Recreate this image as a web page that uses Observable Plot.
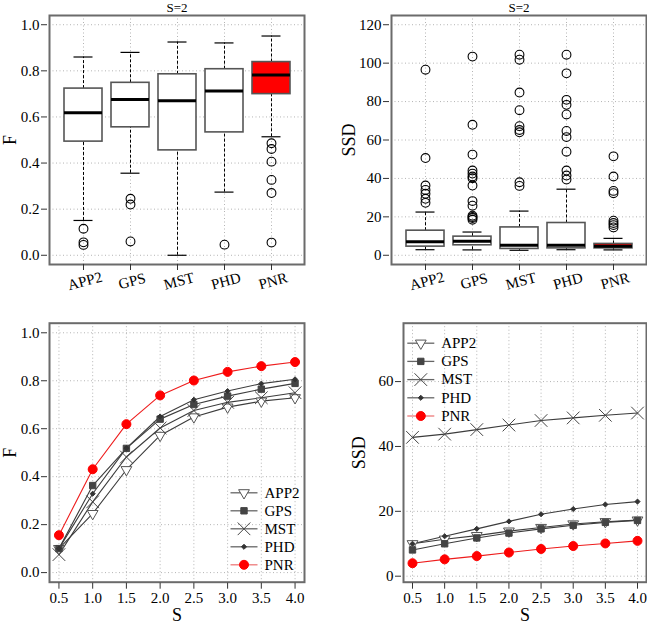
<!DOCTYPE html>
<html><head><meta charset="utf-8">
<script src="https://cdn.jsdelivr.net/npm/d3@7"></script>
<script src="https://cdn.jsdelivr.net/npm/@observablehq/plot@0.6"></script>
<style>
body{margin:0;background:#fff}
#wrap{position:relative;width:647px;height:624px;overflow:hidden;background:#fff}
#wrap svg, #wrap svg text{font-family:'Liberation Serif','Times New Roman',serif !important}
</style></head><body><div id="wrap"></div>
<script>
// ---------- data ----------
const methods = ["APP2", "GPS", "MST", "PHD", "PNR"];
const boxTitle = "S=2";

// F at S=2 (boxplot summaries)
const fLow  = [0.151, 0.356, 0.000, 0.274, 0.514];
const fQ1   = [0.493, 0.555, 0.455, 0.533, 0.699];
const fMed  = [0.618, 0.676, 0.670, 0.713, 0.782];
const fQ3   = [0.723, 0.748, 0.785, 0.807, 0.838];
const fHigh = [0.860, 0.880, 0.925, 0.921, 0.951];
const fOut  = [
  [0.115, 0.056, 0.045],
  [0.245, 0.220, 0.060],
  [],
  [0.046],
  [0.486, 0.461, 0.406, 0.327, 0.270, 0.055]
];

// SSD at S=2 (boxplot summaries)
const sLow  = [2.9, 2.8, 2.6, 2.9, 2.8];
const sQ1   = [4.5, 5.2, 3.3, 3.6, 3.6];
const sMed  = [7.1, 7.3, 5.2, 5.2, 4.7];
const sQ3   = [12.8, 9.7, 14.5, 16.8, 5.9];
const sHigh = [22.5, 12.1, 23.0, 34.4, 8.8];
const sOut  = [
  [96.6, 50.6, 36.3, 34.0, 32.0, 29.4, 27.3],
  [103.4, 67.9, 52.4, 44.1, 42.5, 41.0, 40.1, 36.3, 28.2, 25.8, 20.6, 19.9, 19.4, 18.5],
  [104.4, 101.8, 84.7, 75.5, 67.2, 65.2, 64.0, 38.0, 36.1],
  [104.4, 94.7, 80.9, 78.3, 73.3, 64.7, 61.5, 53.9, 44.1, 41.5, 39.4],
  [51.5, 41.0, 33.5, 32.3, 18.0, 16.8, 15.7, 14.5]
];

// curves vs S
const sValues = [0.5, 1.0, 1.5, 2.0, 2.5, 3.0, 3.5, 4.0];
const fAPP2 = [0.100, 0.246, 0.429, 0.572, 0.649, 0.690, 0.715, 0.729];
const fGPS  = [0.100, 0.363, 0.518, 0.640, 0.701, 0.736, 0.765, 0.789];
const fMST  = [0.075, 0.295, 0.482, 0.603, 0.676, 0.710, 0.729, 0.750];
const fPHD  = [0.100, 0.329, 0.519, 0.651, 0.721, 0.757, 0.788, 0.806];
const fPNR  = [0.156, 0.431, 0.619, 0.739, 0.801, 0.837, 0.861, 0.878];

const ssdAPP2 = [10.0, 11.4, 12.5, 13.9, 15.0, 16.1, 16.8, 17.3];
const ssdGPS  = [8.1, 10.0, 11.8, 13.3, 14.6, 15.7, 16.6, 17.2];
const ssdMST  = [42.8, 43.8, 45.2, 46.6, 48.0, 48.8, 49.6, 50.3];
const ssdPHD  = [10.0, 12.3, 14.6, 16.9, 19.1, 20.7, 22.1, 23.0];
const ssdPNR  = [4.0, 5.2, 6.2, 7.3, 8.4, 9.3, 10.1, 10.9];

const fTicks = [0, 0.2, 0.4, 0.6, 0.8, 1.0];
const ssdBoxTicks = [0, 20, 40, 60, 80, 100, 120];
const ssdLineTicks = [0, 20, 40, 60];

// ---------- styling ----------
const FONT = "Liberation Serif";
const TICK_FS = 15;
const RED = "#ff0000";
const GRID = {stroke: "#b4b4b4", strokeOpacity: 1, strokeDasharray: "1,2.5", strokeWidth: 1};
const wrap = document.getElementById("wrap");

function place(svg, left, top) {
  svg.style.position = "absolute";
  svg.style.left = left + "px";
  svg.style.top = top + "px";
  wrap.appendChild(svg);
}

function boxPanel(o) {
  const table = methods.map((m, i) => ({m, low: o.low[i], q1: o.q1[i], med: o.med[i], q3: o.q3[i], high: o.high[i]}));
  const outs = methods.flatMap((m, i) => o.outs[i].map(v => ({m, v})));
  return Plot.plot({
    width: o.width, height: 300,
    marginTop: 15, marginBottom: 36, marginLeft: o.ml, marginRight: o.mr,
    style: {fontFamily: FONT, fontSize: "15px", background: "transparent", overflow: "visible"},
    x: {type: "band", domain: methods, paddingInner: 0.2, paddingOuter: 0.284},
    y: {domain: o.yDomain},
    color: {type: "identity"},
    marks: [
      Plot.gridY(o.yTicks, GRID),
      Plot.gridX(methods, GRID),
      Plot.ruleX(table, {x: "m", y1: "q3", y2: "high", stroke: "#000", strokeWidth: 1, strokeDasharray: "3,2"}),
      Plot.ruleX(table, {x: "m", y1: "low", y2: "q1", stroke: "#000", strokeWidth: 1, strokeDasharray: "3,2"}),
      Plot.tickY(table, {x: "m", y: "high", stroke: "#000", strokeWidth: 1.2, insetLeft: 9.5, insetRight: 9.5}),
      Plot.tickY(table, {x: "m", y: "low", stroke: "#000", strokeWidth: 1.2, insetLeft: 9.5, insetRight: 9.5}),
      Plot.barY(table, {x: "m", y1: "q1", y2: "q3", fill: d => d.m === "PNR" ? RED : "#fff", stroke: "#555", strokeWidth: 1.6}),
      Plot.tickY(table, {x: "m", y: "med", stroke: "#000", strokeWidth: 3}),
      Plot.dot(outs, {x: "m", y: "v", r: 4.4, stroke: "#000", strokeWidth: 1.1, fill: "none"}),
      Plot.frame({stroke: "#6b6b6b", strokeWidth: 2}),
      Plot.axisY({ticks: o.yTicks, tickFormat: o.fmt, tickSize: 6, tickPadding: 2, dx: -2, fontSize: TICK_FS, fontFamily: FONT, stroke: "#333", label: null}),
      Plot.axisX({tickSize: 6, tickPadding: 5, tickRotate: -15, textAnchor: "middle", lineAnchor: "top", fontSize: TICK_FS, fontFamily: FONT, stroke: "#333", label: null}),
      Plot.text([o.yLabel], {frameAnchor: "left", dx: o.labDx, rotate: -90, text: d => d, fontSize: 18, fontFamily: FONT, textAnchor: "middle", lineAnchor: "middle"}),
      Plot.text([boxTitle], {frameAnchor: "top", dy: -4, text: d => d, fontSize: 13, fontFamily: FONT, lineAnchor: "bottom"})
    ]
  });
}

const symStyle = {
  APP2: {symbol: "triangle", rotate: 180, r: 4, fill: "#fff", stroke: "#555", strokeWidth: 1},
  GPS:  {symbol: "square", r: 3.6, fill: "#444", stroke: "#444", strokeWidth: 1},
  MST:  {symbol: "times", r: 5.8, fill: "none", stroke: "#444", strokeWidth: 1},
  PHD:  {symbol: "diamond2", r: 2.3, fill: "#333", stroke: "#333", strokeWidth: 1},
  PNR:  {symbol: "circle", r: 4.5, fill: RED, stroke: RED, strokeWidth: 1}
};
const lineColor = m => m === "PNR" ? "#ee1c1c" : "#3c3c3c";
const segment = {draw(ctx) { ctx.moveTo(-13.5, 0); ctx.lineTo(13.5, 0); }};

function linePanel(o) {
  const table = methods.flatMap((m, k) => sValues.map((s, j) => ({m, s, v: o.series[k][j]})));
  const legend = methods.flatMap((m, i) => {
    const dy = o.legDy0 + o.legStep * i;
    return [
      Plot.dot([m], {frameAnchor: o.legAnchor, dx: o.legDx, dy, symbol: segment, r: 5, fill: "none",
                     stroke: m === "PNR" ? "#ec7a7a" : "#666", strokeWidth: 1.3}),
      Plot.dot([m], {frameAnchor: o.legAnchor, dx: o.legDx, dy, ...symStyle[m]}),
      Plot.text([m], {frameAnchor: o.legAnchor, dx: o.legTx, dy, text: d => d, fontSize: 15, fontFamily: FONT,
                      textAnchor: "start", lineAnchor: "middle"})
    ];
  });
  return Plot.plot({
    width: o.width, height: 324,
    marginTop: 22.7, marginBottom: 42.3, marginLeft: o.ml, marginRight: o.mr,
    style: {fontFamily: FONT, fontSize: "15px", background: "transparent", overflow: "visible"},
    x: {domain: [0.36, 4.14]},
    y: {domain: o.yDomain},
    color: {type: "identity"},
    marks: [
      Plot.gridY(o.yTicks, GRID),
      Plot.gridX(sValues, GRID),
      Plot.line(table, {x: "s", y: "v", z: "m", stroke: d => lineColor(d.m), strokeWidth: 1.1}),
      ...methods.map(m => Plot.dot(table.filter(d => d.m === m), {x: "s", y: "v", ...symStyle[m]})),
      ...legend,
      Plot.frame({stroke: "#6b6b6b", strokeWidth: 2}),
      Plot.axisY({ticks: o.yTicks, tickFormat: o.fmt, tickSize: 6, tickPadding: 2, dx: -2, fontSize: TICK_FS, fontFamily: FONT, stroke: "#333", label: null}),
      Plot.axisX({ticks: sValues, tickFormat: d3.format(".1f"), tickSize: 6, tickPadding: 3, dy: 1, fontSize: TICK_FS, fontFamily: FONT, stroke: "#333", label: null}),
      Plot.text([o.yLabel], {frameAnchor: "left", dx: o.labDx, rotate: -90, text: d => d, fontSize: 18, fontFamily: FONT, textAnchor: "middle", lineAnchor: "middle"}),
      Plot.text(["S"], {frameAnchor: "bottom", dy: 33, text: d => d, fontSize: 18, fontFamily: FONT, textAnchor: "middle", lineAnchor: "middle"})
    ]
  });
}

place(boxPanel({width: 323, ml: 49, mr: 19, low: fLow, q1: fQ1, med: fMed, q3: fQ3, high: fHigh, outs: fOut,
  yDomain: [-0.04, 1.04], yTicks: fTicks, fmt: d3.format(".1f"), yLabel: "F", labDx: -39}), 0, 0);
place(boxPanel({width: 324, ml: 68, mr: 1, low: sLow, q1: sQ1, med: sMed, q3: sQ3, high: sHigh, outs: sOut,
  yDomain: [-4.8, 124.8], yTicks: ssdBoxTicks, fmt: d3.format("d"), yLabel: "SSD", labDx: -42}), 323, 0);
place(linePanel({width: 323, ml: 49, mr: 19, series: [fAPP2, fGPS, fMST, fPHD, fPNR],
  yDomain: [-0.04, 1.04], yTicks: fTicks, fmt: d3.format(".1f"), yLabel: "F", labDx: -39,
  legAnchor: "bottom-right", legDx: -60.5, legTx: -40, legDy0: -89.4, legStep: 18}), 0, 300);
place(linePanel({width: 324, ml: 80, mr: 1, series: [ssdAPP2, ssdGPS, ssdMST, ssdPHD, ssdPNR],
  yDomain: [-1.85, 78], yTicks: ssdLineTicks, fmt: d3.format("d"), yLabel: "SSD", labDx: -44,
  legAnchor: "top-left", legDx: 17.3, legTx: 37.7, legDy0: 20, legStep: 18.2}), 323, 300);
</script></body></html>
